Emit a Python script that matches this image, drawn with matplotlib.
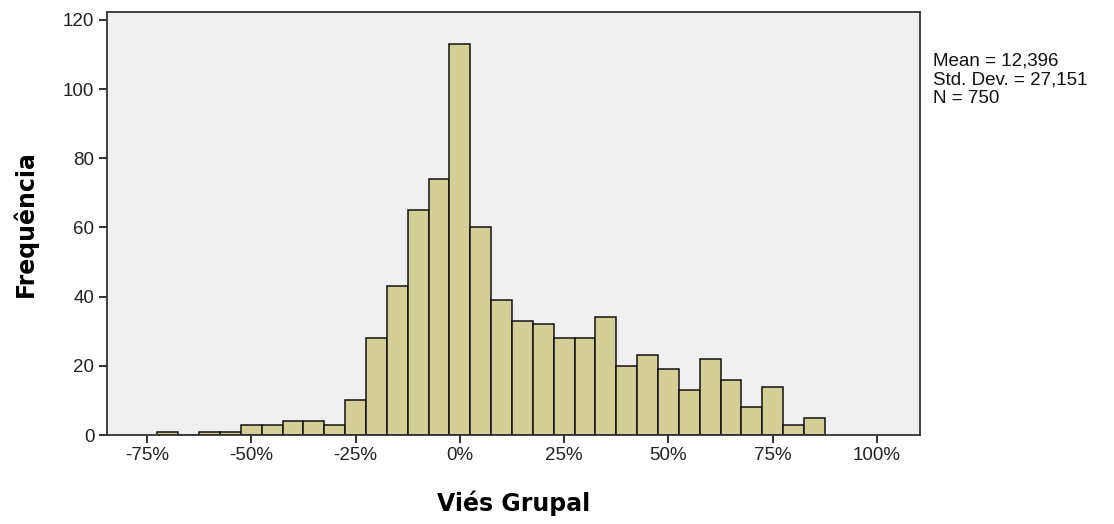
import matplotlib
matplotlib.use("Agg")
from matplotlib import pyplot as plt

# histogram of group bias (bins 5 points wide)
centers = [-70, -65, -60, -55, -50, -45, -40, -35, -30, -25, -20, -15, -10, -5,
           0, 5, 10, 15, 20, 25, 30, 35, 40, 45, 50, 55, 60, 65, 70, 75, 80, 85]
counts = [1, 0, 1, 1, 3, 3, 4, 4, 3, 10, 28, 43, 65, 74,
          113, 60, 39, 33, 32, 28, 28, 34, 20, 23, 19, 13, 22, 16, 8, 14, 3, 5]
xticks = [-75, -50, -25, 0, 25, 50, 75, 100]
yticks = [0, 20, 40, 60, 80, 100, 120]
stats = ["Mean = 12,396", "Std. Dev. = 27,151", "N = 750"]

fig = plt.figure(figsize=(11.14, 5.24), dpi=100)
ax = fig.add_axes([107/1114, 89/524, 813/1114, 423/524])
ax.set_facecolor("#f0f0f0")

ax.bar(centers, counts, width=5, color="#d4ce97", edgecolor="#111111",
       linewidth=1.1, zorder=2)

ax.set_xlim(-84.6, 110.3)
ax.set_ylim(0, 122.3)
ax.set_xticks(xticks)
ax.set_xticklabels([f"{v}%" for v in xticks])
ax.set_yticks(yticks)

for s in ax.spines.values():
    s.set_color("#333333")
    s.set_linewidth(1.3)
ax.tick_params(direction="out", length=6, width=1.4, color="#333333",
               labelsize=13.5, labelcolor="#222222", pad=3)
for lab in ax.get_xticklabels() + ax.get_yticklabels():
    lab.set_family("Liberation Sans")

ax.set_xlabel("Viés Grupal", fontsize=17, fontweight="bold",
              family="DejaVu Sans", labelpad=19)
ax.set_ylabel("Frequência", fontsize=17, fontweight="bold",
              family="DejaVu Sans", labelpad=18)

fig.text(933/1114, 1 - 53/524, "\n".join(stats), ha="left", va="top",
         fontsize=13.5, family="Liberation Sans", color="#111111",
         linespacing=1.1)

fig.savefig("out.png", dpi=100)
